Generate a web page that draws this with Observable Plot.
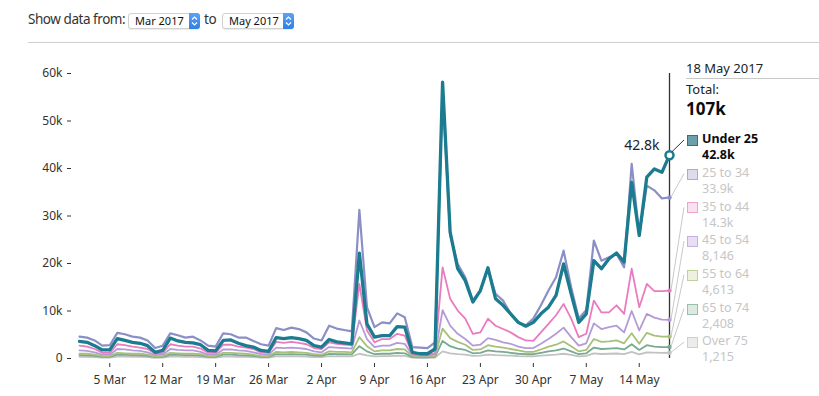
<!DOCTYPE html>
<html><head><meta charset="utf-8">
<script src="https://cdn.jsdelivr.net/npm/d3@7"></script>
<script src="https://cdn.jsdelivr.net/npm/@observablehq/plot@0.6"></script>
<style>
body{margin:0;background:#fff;font-family:"Noto Sans",sans-serif;color:#0b0c0c;}
#wrap{position:relative;width:819px;height:396px;overflow:hidden;}
.abs{position:absolute;white-space:nowrap;}
.lbl{font-family:"Noto Sans",sans-serif;font-size:13.5px;letter-spacing:-0.45px;line-height:18px;color:#333;}
.sel{position:absolute;top:13px;height:14px;border:1px solid #d0d0d0;border-radius:3px;background:#fff;box-shadow:0 1px 1px rgba(0,0,0,0.08);font-size:11px;line-height:14px;color:#111;padding-left:6px;box-sizing:content-box;}
.spin{position:absolute;right:-1px;top:-1px;width:11px;height:16px;background:linear-gradient(#5aa2f7,#2f7fe6);border-radius:0 3px 3px 0;}
#chart{position:absolute;left:0;top:50px;}
.sw{position:absolute;width:9px;height:9px;border:1.5px solid;}
.item{position:absolute;left:702px;font-size:12.5px;line-height:16px;color:#c6c6c6;}
</style></head><body>
<div id="wrap">
  <div class="abs lbl" style="left:28px;top:10px">Show data from:</div>
  <div class="sel" style="left:128px;width:64px">Mar 2017<span class="spin"><svg width="11" height="16"><polyline points="3,6.5 5.5,4 8,6.5" fill="none" stroke="#fff" stroke-width="1.2"/><polyline points="3,9.5 5.5,12 8,9.5" fill="none" stroke="#fff" stroke-width="1.2"/></svg></span></div>
  <div class="abs lbl" style="left:204px;top:10px">to</div>
  <div class="sel" style="left:222px;width:64px">May 2017<span class="spin"><svg width="11" height="16"><polyline points="3,6.5 5.5,4 8,6.5" fill="none" stroke="#fff" stroke-width="1.2"/><polyline points="3,9.5 5.5,12 8,9.5" fill="none" stroke="#fff" stroke-width="1.2"/></svg></span></div>
  <div class="abs" style="left:28px;top:42px;width:791px;height:1px;background:#cfcfcf"></div>
  <div id="chart"></div>
  <div id="legend"></div>
</div>
<script>
// ---- data ----
const startDate = "2017-03-01";
const endDate = "2017-05-18";
const seriesNames = ["Under 25", "25 to 34", "35 to 44", "45 to 54", "55 to 64", "65 to 74", "Over 75"];
const under25 = [
3600,3400,2700,1800,1800,4200,3800,
3400,3200,2700,1300,1700,4300,3700,
3400,3300,2900,1700,1600,3800,3900,
3200,2700,2400,1700,1500,4400,4200,
4400,4200,3800,2700,2400,4000,3500,
3300,3100,22200,7300,4500,4800,4800,
6700,6600,1300,1000,1000,2000,58200,
26600,18900,16400,11900,14300,19100,12600,
11200,9400,7600,6800,7600,9400,10800,
13300,19900,13600,7600,9400,20600,18900,
21000,22200,20300,37100,25900,38200,39900,
39200,42800];
const age25to34 = [
4600,4400,3800,2700,2800,5400,5100,
4600,4400,3800,2200,2700,5300,4900,
4400,4600,3800,2700,2500,5300,5100,
4400,4400,3700,3000,2700,6400,6000,
6500,6200,5500,4200,3800,6900,6300,
6000,5700,31300,10800,6600,7600,7400,
9500,8700,2400,2300,2200,3400,56500,
26000,19900,17100,12200,14300,18900,13600,
12200,9400,7600,7000,8400,11200,14300,
17100,22700,15000,8400,10200,24800,20600,
21300,22000,19200,41000,26000,36400,35400,
33700,33900];
const age35to44 = [
2700,2500,2000,1200,1200,3000,2800,
2500,2300,2000,1000,1200,3000,2700,
2500,2500,2100,1200,1200,2900,2900,
2500,2300,2000,1300,1200,3500,3300,
3500,3300,3000,2200,2000,3400,3100,
2900,2800,15700,5900,3400,4100,4100,
5200,4800,1000,800,800,1100,19200,
12600,10100,8400,5200,5500,8400,6900,
6200,5500,4500,3800,3700,5500,7300,
9100,11500,8400,4500,5200,12200,9700,
9700,11200,9400,18900,10800,15700,14200,
14200,14300];
const age45to54 = [
1700,1600,1300,800,800,2000,1900,
1700,1600,1300,700,800,2000,1800,
1700,1700,1400,800,800,1900,1900,
1700,1600,1300,900,800,2300,2200,
2300,2200,2000,1500,1300,2400,2300,
2200,2100,8000,4100,2400,2700,2700,
3300,3100,700,600,600,800,10200,
6900,5200,4100,2700,2900,4300,3900,
3400,3100,2500,2200,2200,3100,4100,
5200,6500,4500,2700,3200,7400,6200,
6600,6900,5500,10000,5900,9400,8600,
8200,8146];
const age55to64 = [
1000,1000,800,500,500,1200,1100,
1000,1000,800,400,500,1200,1100,
1000,1000,900,500,500,1200,1200,
1100,1000,800,500,500,1400,1300,
1400,1300,1200,900,800,1500,1400,
1400,1300,4500,2600,1500,1700,1700,
2000,1900,500,400,400,500,6300,
4300,3500,2900,1800,1900,2800,2500,
2300,2000,1700,1400,1400,1900,2500,
2900,3600,2600,1500,1800,4100,3500,
3600,3800,3200,5300,3100,5400,4800,
4600,4613];
const age65to74 = [
700,650,550,350,350,800,750,
700,650,550,300,350,800,750,
700,700,600,350,350,800,800,
700,650,550,350,350,900,850,
900,850,800,600,550,950,900,
900,850,2600,1500,900,1000,1000,
1200,1100,300,250,250,350,3700,
2600,2100,1800,1100,1200,1700,1500,
1400,1200,1000,900,900,1200,1500,
1700,2100,1500,900,1100,2300,2000,
2100,2200,1900,3000,1800,2800,2500,
2400,2408];
const over75 = [
350,330,280,180,180,400,380,
350,330,280,160,180,400,380,
350,350,300,180,180,400,400,
350,330,280,180,180,450,430,
450,430,400,300,280,480,450,
450,430,1000,650,450,500,500,
600,550,200,150,150,200,1500,
1100,900,800,550,600,800,700,
650,600,500,450,450,600,700,
800,1000,750,450,550,1100,950,
1000,1050,900,1400,850,1300,1250,
1200,1215];
const xTickDates = ["2017-03-05","2017-03-12","2017-03-19","2017-03-26","2017-04-02","2017-04-09","2017-04-16","2017-04-23","2017-04-30","2017-05-07","2017-05-14"];
const yTicks = [0, 10000, 20000, 30000, 40000, 50000, 60000];

// ---- styles ----
const colors = ["#1b7b8f", "#8b8fc6", "#e97cbf", "#b49bd8", "#a7c07a", "#78a991", "#c2c2c2"];
const swatchFill = ["#6a9fab", "#dcdcec", "#fbe0ef", "#e8e0f2", "#eef1e1", "#dde9e2", "#ececec"];
const swatchBorder = ["#1b7b8f", "#a9acd8", "#f0a3d0", "#c5b2e2", "#bfd19b", "#98bfab", "#cfcfcf"];

const seriesValues = [under25, age25to34, age35to44, age45to54, age55to64, age65to74, over75];
const days = d3.utcDay.range(new Date(startDate), d3.utcDay.offset(new Date(endDate), 1));
const last = days.length - 1;
const rows = seriesNames.map((name, i) => seriesValues[i].map((v, j) => ({date: days[j], value: v, series: name, i})));
const lastRows = rows.map(r => r[last]);
const fmtVal = v => v >= 10000 ? (v / 1000).toFixed(1) + "k" : d3.format(",")(v);
const total = d3.sum(lastRows, d => d.value);

const lineMarks = [];
for (let i = seriesNames.length - 1; i >= 0; i--) {
  lineMarks.push(Plot.line(rows[i], {x: "date", y: "value", stroke: colors[i],
    strokeWidth: i === 0 ? 3.3 : (i === 1 ? 2.2 : 1.8), strokeLinejoin: "round", strokeLinecap: "round"}));
}

const plot = Plot.plot({
  width: 819, height: 346,
  marginTop: 23, marginBottom: 38, marginLeft: 79, marginRight: 150,
  style: {fontFamily: '"Noto Sans", sans-serif', fontSize: "12px", color: "#333", overflow: "visible", background: "transparent"},
  x: {type: "utc", domain: [days[0], days[last]]},
  y: {domain: [0, 60000]},
  marks: [
    Plot.axisY({ticks: yTicks, tickFormat: d => d === 0 ? "0" : d / 1000 + "k", tickSize: 4, tickPadding: 5, dx: -8, label: null}),
    Plot.axisX({ticks: xTickDates.map(d => new Date(d)), tickFormat: d3.utcFormat("%-d %b"), tickSize: 4, tickPadding: 8, dy: 5, label: null}),
    ...lineMarks,
    Plot.ruleX([days[last]], {stroke: "#333", strokeWidth: 1.3}),
    Plot.dot(lastRows.slice(1), {x: "date", y: "value", r: 2.2, fill: (d) => colors[d.i]}),
    Plot.dot([lastRows[0]], {x: "date", y: "value", r: 4, fill: "white", stroke: colors[0], strokeWidth: 2.5}),
    Plot.text([lastRows[0]], {x: "date", y: "value", text: d => fmtVal(d.value), textAnchor: "end", dx: -10, dy: -10, fontSize: 14, fill: "#222"})
  ]
});
document.getElementById("chart").appendChild(plot);

// legend layout
const chartTop = 50;
const itemTop = i => 135 + 33.7 * i;
const leg = d3.select("#legend");
leg.append("div").attr("class", "abs").style("left", "686px").style("top", "59.6px")
  .style("font-size", "13px").style("line-height", "16px").style("color", "#222").text("18 May 2017");
leg.append("div").attr("class", "abs").style("left", "686px").style("top", "78px")
  .style("width", "133px").style("height", "1px").style("background", "#c8c8c8");
leg.append("div").attr("class", "abs").style("left", "686px").style("top", "82px")
  .style("font-size", "13px").style("line-height", "14px").style("color", "#222").text("Total:");
leg.append("div").attr("class", "abs").style("left", "686px").style("top", "99.5px")
  .style("font-size", "17px").style("line-height", "18px").style("font-weight", "700").style("color", "#0b0c0c")
  .text(Math.round(total / 1000) + "k");
seriesNames.forEach((name, i) => {
  const t = itemTop(i);
  leg.append("div").attr("class", "sw").style("left", "687px").style("top", t + "px")
    .style("background", swatchFill[i]).style("border-color", swatchBorder[i]);
  const it = leg.append("div").attr("class", "item").style("top", (t - 3.9) + "px");
  if (i === 0) it.style("color", "#0b0c0c").style("font-weight", "700");
  it.append("div").text(name);
  it.append("div").text(fmtVal(lastRows[i].value));
});

// leader lines from series ends to legend entries
const svg = d3.select(plot);
const xs = plot.scale("x"), ys = plot.scale("y");
const xe = xs.apply(days[last]);
const g = svg.append("g");
seriesNames.forEach((name, i) => {
  const yv = ys.apply(lastRows[i].value);
  g.append("line")
    .attr("x1", xe + (i === 0 ? 3 : 2)).attr("y1", yv - (i === 0 ? 3 : 0))
    .attr("x2", xe + 15).attr("y2", itemTop(i) - chartTop + 5)
    .attr("stroke", i === 0 ? "#333" : "#c8c8c8").attr("stroke-width", 1);
});
</script>
</body></html>
